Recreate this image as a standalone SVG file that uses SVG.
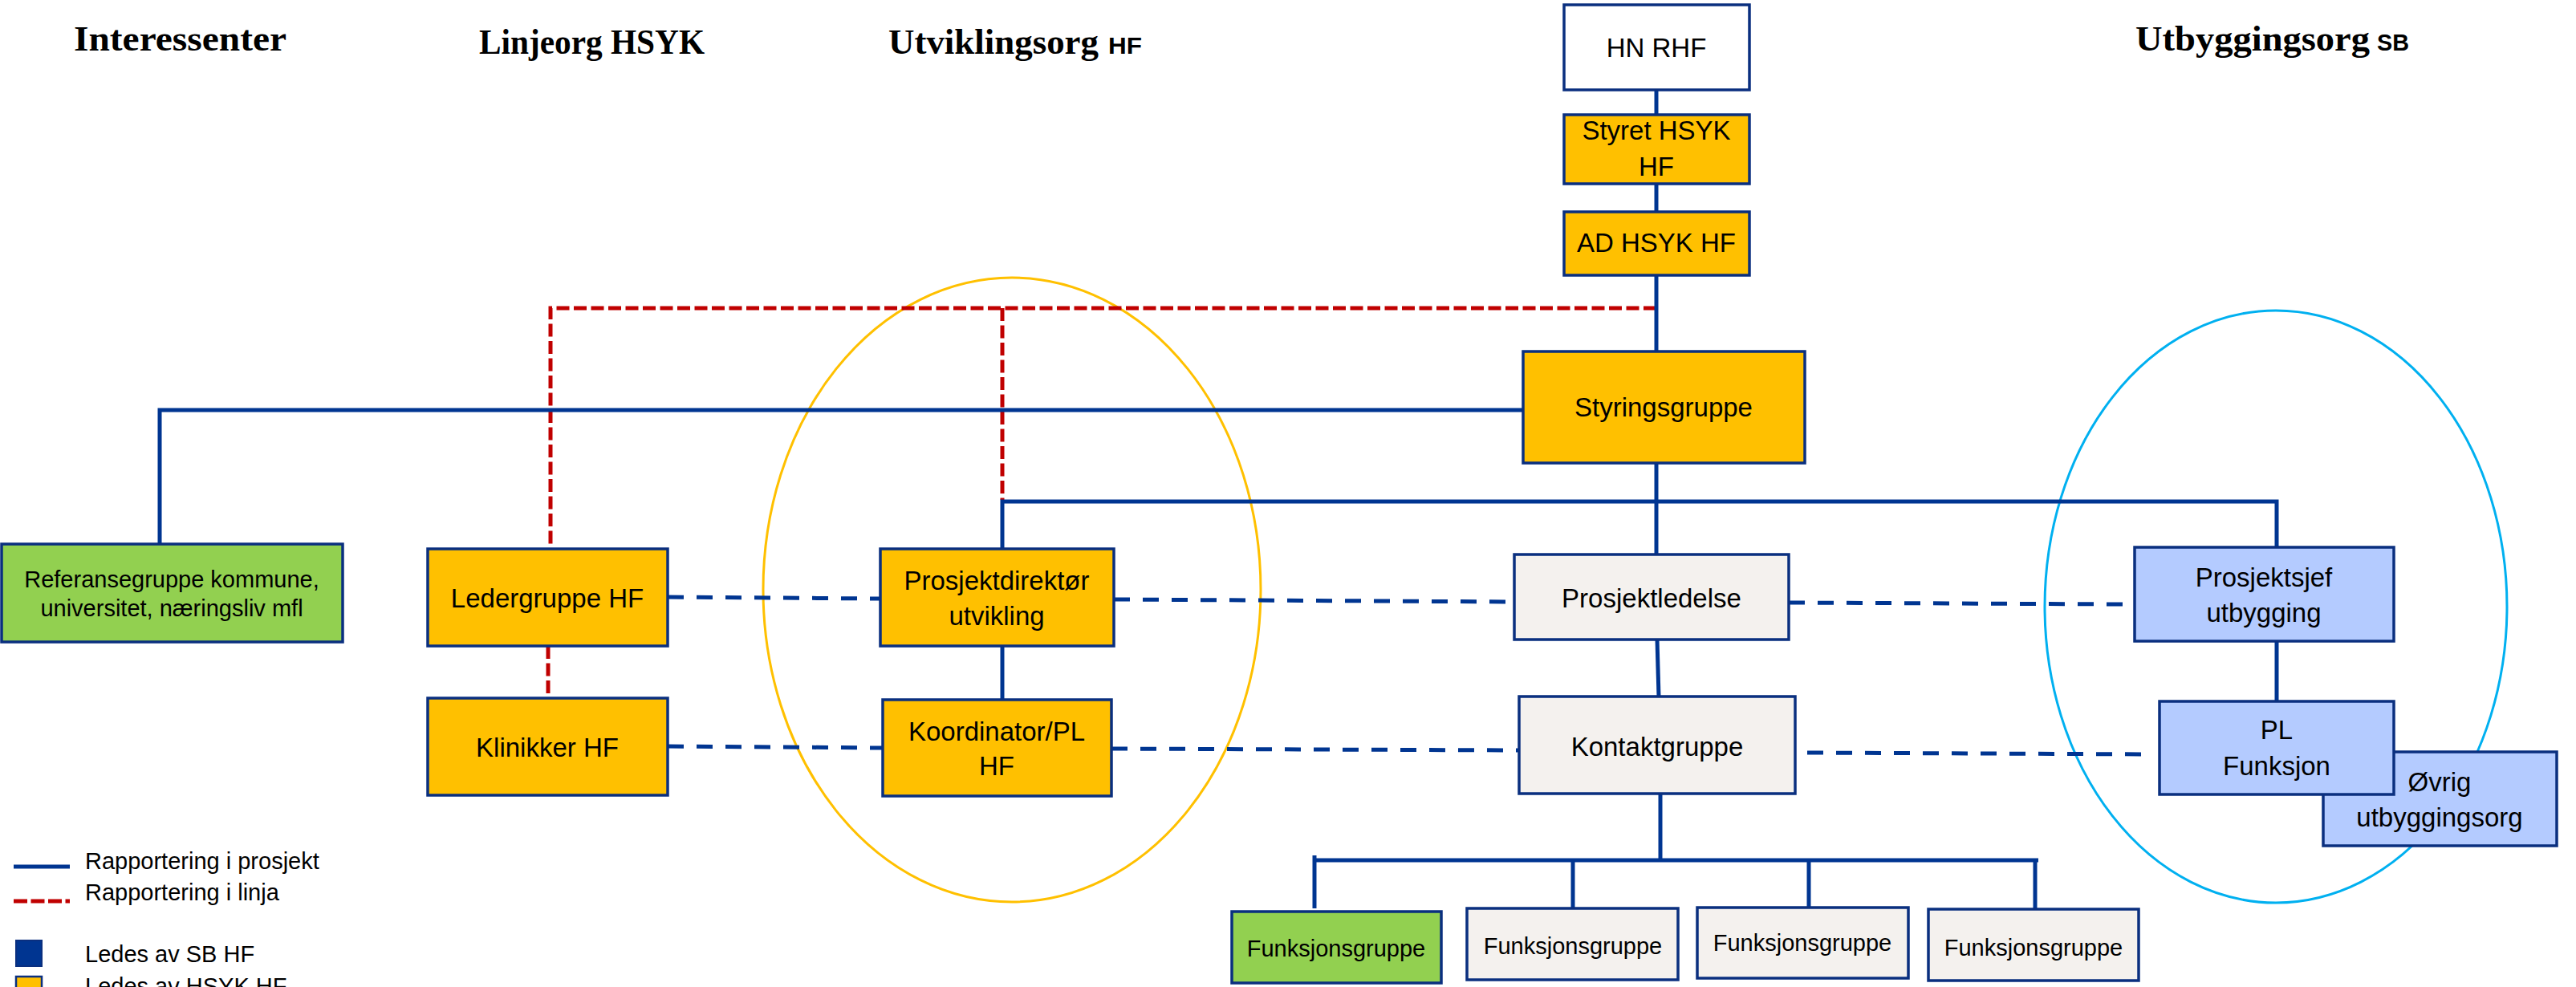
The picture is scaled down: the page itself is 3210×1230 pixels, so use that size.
<svg xmlns="http://www.w3.org/2000/svg" width="3210" height="1230" viewBox="0 0 3210 1230">
<style>
.title{font-family:"Liberation Serif",serif;font-weight:bold;font-size:44px;fill:#000}
.sub{font-family:"Liberation Sans",Arial,sans-serif;font-weight:bold;font-size:29px}
.box{stroke:#0A2F7F;stroke-width:3.5}
.y{fill:#FFC000}.g{fill:#92D050}.w{fill:#FFFFFF}.gr{fill:#F4F1EE}.b{fill:#B4CBFF}
.t{font-family:"Liberation Sans",Arial,sans-serif;font-size:33px;fill:#000;text-anchor:middle}
.s{font-family:"Liberation Sans",Arial,sans-serif;font-size:29px;fill:#000;text-anchor:middle}
.lg{font-family:"Liberation Sans",Arial,sans-serif;font-size:29px;fill:#000}
.p{stroke:#003591;stroke-width:5;fill:none}
.pd{stroke:#003591;stroke-width:5;fill:none;stroke-dasharray:20 16}
.r{stroke:#C00000;stroke-width:5;fill:none;stroke-dasharray:16 5.5}
</style>
<rect width="3210" height="1230" fill="#FFFFFF"/>
<g id="titles">
<text class="title" x="92" y="63" textLength="265" lengthAdjust="spacingAndGlyphs">Interessenter</text>
<text class="title" x="597" y="67" textLength="281" lengthAdjust="spacingAndGlyphs">Linjeorg HSYK</text>
<text class="title" x="1107" y="67" textLength="262" lengthAdjust="spacingAndGlyphs">Utviklingsorg</text>
<text class="sub" x="1381" y="67" textLength="42" lengthAdjust="spacingAndGlyphs">HF</text>
<text class="title" x="2661" y="63" textLength="292" lengthAdjust="spacingAndGlyphs">Utbyggingsorg</text>
<text class="sub" x="2962" y="63" textLength="40" lengthAdjust="spacingAndGlyphs">SB</text>
</g>
<g id="ellipses">
<ellipse cx="1261" cy="735" rx="310" ry="389" fill="none" stroke="#FFC000" stroke-width="3"/>
<ellipse cx="2836" cy="756" rx="288" ry="369" fill="none" stroke="#00B0F0" stroke-width="3"/>
</g>
<g id="connectors">
<polyline class="r" points="2064,384 686,384 686,684"/>
<line class="r" x1="1249" y1="384" x2="1249" y2="623"/>
<line class="r" x1="683" y1="805" x2="683" y2="870"/>
<line class="p" x1="2064" y1="112" x2="2064" y2="143"/>
<line class="p" x1="2064" y1="229" x2="2064" y2="264"/>
<line class="p" x1="2064" y1="343" x2="2064" y2="438"/>
<polyline class="p" points="199,678 199,511 1898,511"/>
<line class="p" x1="2064" y1="577" x2="2064" y2="691"/>
<polyline class="p" points="1249,684 1249,625 2837,625 2837,682"/>
<line class="p" x1="1249" y1="805" x2="1249" y2="872"/>
<line class="p" x1="2837" y1="799" x2="2837" y2="874"/>
<line class="p" x1="2065" y1="797" x2="2067" y2="868"/>
<line class="p" x1="2069" y1="989" x2="2069" y2="1072"/>
<line class="p" x1="1638" y1="1072" x2="2540" y2="1072"/>
<line class="p" x1="1638" y1="1066" x2="1638" y2="1132"/>
<line class="p" x1="1960" y1="1072" x2="1960" y2="1132"/>
<line class="p" x1="2254" y1="1072" x2="2254" y2="1136"/>
<line class="p" x1="2536" y1="1072" x2="2536" y2="1136"/>
<line class="pd" x1="832" y1="744" x2="1097" y2="746"/>
<line class="pd" x1="1388" y1="747" x2="1887" y2="750"/>
<line class="pd" x1="2229" y1="751" x2="2645" y2="753"/>
<line class="pd" x1="832" y1="930" x2="1100" y2="932"/>
<line class="pd" x1="1385" y1="933" x2="1893" y2="935"/>
<line class="pd" x1="2252" y1="938" x2="2681" y2="940"/>
</g>
<g id="hn-rhf"><rect class="box w" x="1949" y="6" width="231" height="106"/><text class="t" x="2064" y="71">HN RHF</text></g>
<g id="styret"><rect class="box y" x="1949" y="143" width="231" height="86"/><text class="t" x="2064" y="174">Styret HSYK</text><text class="t" x="2064" y="219">HF</text></g>
<g id="ad"><rect class="box y" x="1949" y="264" width="231" height="79"/><text class="t" x="2064" y="314">AD HSYK HF</text></g>
<g id="styringsgruppe"><rect class="box y" x="1898" y="438" width="351" height="139"/><text class="t" x="2073" y="519">Styringsgruppe</text></g>
<g id="referansegruppe"><rect class="box g" x="2" y="678" width="425" height="122"/><text class="s" x="214" y="732">Referansegruppe kommune,</text><text class="s" x="214" y="768">universitet, næringsliv mfl</text></g>
<g id="ledergruppe"><rect class="box y" x="533" y="684" width="299" height="121"/><text class="t" x="682" y="757">Ledergruppe HF</text></g>
<g id="klinikker"><rect class="box y" x="533" y="870" width="299" height="121"/><text class="t" x="682" y="943">Klinikker HF</text></g>
<g id="prosjektdirektor"><rect class="box y" x="1097" y="684" width="291" height="121"/><text class="t" x="1242" y="735">Prosjektdirektør</text><text class="t" x="1242" y="779">utvikling</text></g>
<g id="koordinator"><rect class="box y" x="1100" y="872" width="285" height="120"/><text class="t" x="1242" y="923">Koordinator/PL</text><text class="t" x="1242" y="966">HF</text></g>
<g id="prosjektledelse"><rect class="box gr" x="1887" y="691" width="342" height="106"/><text class="t" x="2058" y="757">Prosjektledelse</text></g>
<g id="kontaktgruppe"><rect class="box gr" x="1893" y="868" width="344" height="121"/><text class="t" x="2065" y="942">Kontaktgruppe</text></g>
<g id="prosjektsjef"><rect class="box b" x="2660" y="682" width="323" height="117"/><text class="t" x="2821" y="731">Prosjektsjef</text><text class="t" x="2821" y="775">utbygging</text></g>
<g id="ovrig"><rect class="box b" x="2895" y="937" width="291" height="117"/><text class="t" x="3040" y="986">Øvrig</text><text class="t" x="3040" y="1030">utbyggingsorg</text></g>
<g id="pl-funksjon"><rect class="box b" x="2691" y="874" width="292" height="116"/><text class="t" x="2837" y="921">PL</text><text class="t" x="2837" y="966">Funksjon</text></g>
<g id="funksjonsgruppe-1"><rect class="box g" x="1535" y="1136" width="261" height="89"/><text class="s" x="1665" y="1192">Funksjonsgruppe</text></g>
<g id="funksjonsgruppe-2"><rect class="box gr" x="1828" y="1132" width="263" height="89"/><text class="s" x="1960" y="1189">Funksjonsgruppe</text></g>
<g id="funksjonsgruppe-3"><rect class="box gr" x="2115" y="1131" width="263" height="88"/><text class="s" x="2246" y="1185">Funksjonsgruppe</text></g>
<g id="funksjonsgruppe-4"><rect class="box gr" x="2403" y="1133" width="262" height="89"/><text class="s" x="2534" y="1191">Funksjonsgruppe</text></g>
<g id="legend">
<line x1="17" y1="1080" x2="87" y2="1080" stroke="#003591" stroke-width="5"/>
<text class="lg" x="106" y="1083">Rapportering i prosjekt</text>
<line x1="17" y1="1123" x2="87" y2="1123" stroke="#C00000" stroke-width="5" stroke-dasharray="17 4.5"/>
<text class="lg" x="106" y="1122">Rapportering i linja</text>
<rect x="20" y="1172" width="32" height="32" fill="#003591" stroke="#0A2F7F" stroke-width="2"/>
<text class="lg" x="106" y="1199">Ledes av SB HF</text>
<rect x="20" y="1217" width="32" height="32" fill="#FFC000" stroke="#0A2F7F" stroke-width="2.5"/>
<text class="lg" x="106" y="1239">Ledes av HSYK HF</text>
</g>
</svg>
